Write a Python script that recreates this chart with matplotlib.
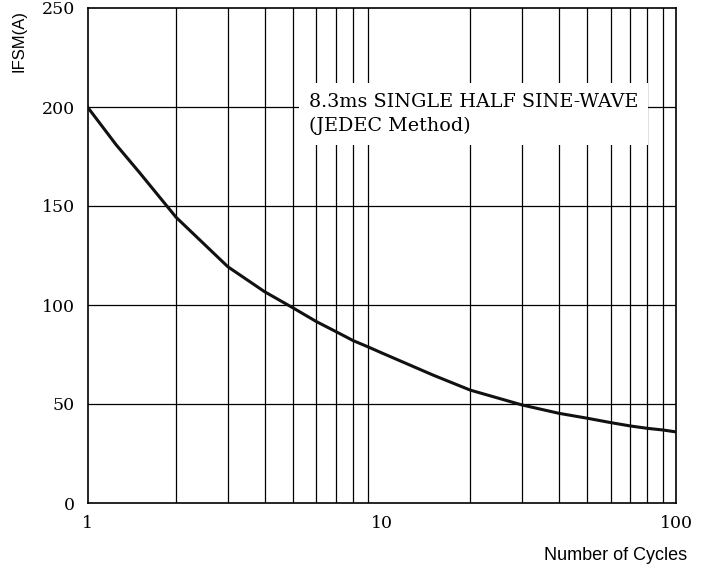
import numpy as np
import matplotlib.pyplot as plt

# surge current vs number of cycles
cycles = [1, 1.25, 1.5, 2, 3, 4, 5, 6, 7, 8, 9, 10, 15, 20, 30, 40, 50, 60, 70, 80, 90, 99]
ifsm = [200, 181, 167, 144.3, 119.3, 106.7, 98.5, 91.6, 86.5, 82, 78.8, 75.8, 64.5, 57,
        49.5, 45.3, 42.8, 40.6, 38.9, 37.7, 36.9, 36]

yticks = [0, 50, 100, 150, 200, 250]
xticks = [1, 10, 100]

fig = plt.figure(figsize=(7.19, 5.68), dpi=100)
ax = fig.add_axes([87.5/719, 1-503/568, 588.5/719, 495/568])

ax.set_xscale('log')
ax.set_xlim(1, 100)
ax.set_ylim(0, 250)

# grid
for d in [1, 10]:
    for m in range(2, 10):
        ax.axvline(d*m, color='black', lw=0.9, zorder=1)
for y in yticks[1:-1]:
    ax.axhline(y, color='black', lw=0.9, zorder=1)

ax.plot(cycles, ifsm, color='#111111', lw=2.2, zorder=3)

ax.text(5.66, 207, '8.3ms SINGLE HALF SINE-WAVE\n(JEDEC Method)',
        family='DejaVu Serif', fontsize=13.8, va='top', ha='left', linespacing=1.4,
        bbox=dict(facecolor='white', edgecolor='none', pad=7), zorder=4)

ax.set_xticks(xticks)
ax.set_xticklabels(['1', '10', '100'])
ax.xaxis.set_minor_locator(plt.NullLocator())
ax.set_yticks(yticks)
ax.tick_params(length=0, labelsize=12.5, pad=9)
for lab in ax.get_xticklabels() + ax.get_yticklabels():
    lab.set_family('DejaVu Serif')

for s in ax.spines.values():
    s.set_linewidth(1.2)

fig.text(19/719, 1-41/568, 'IFSM(A)', rotation=90, ha='center', va='center',
         family='Liberation Sans', fontsize=12)
fig.text(687/719, 1-555/568, 'Number of Cycles', ha='right', va='center',
         family='Liberation Sans', fontsize=13)

fig.savefig('out.png', dpi=100)
